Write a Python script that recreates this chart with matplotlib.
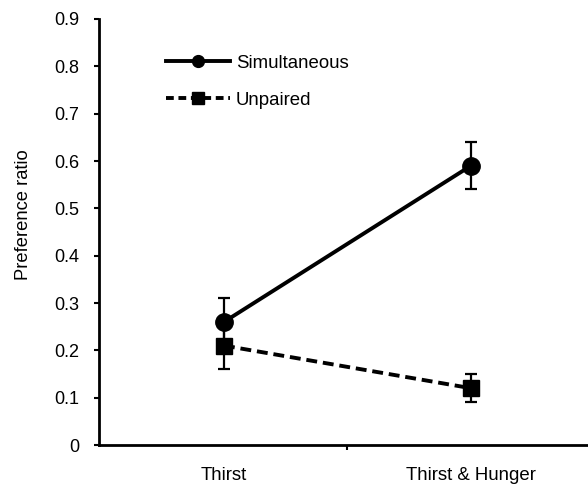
import matplotlib

matplotlib.use("Agg")
import matplotlib.pyplot as plt
from matplotlib.lines import Line2D

plt.rcParams["font.family"] = ["Liberation Sans", "DejaVu Sans"]

conditions = ["Thirst", "Thirst & Hunger"]
simultaneous = [0.26, 0.59]
simultaneous_err = [0.05, 0.05]
unpaired = [0.21, 0.12]
unpaired_err = [0.05, 0.03]

fig = plt.figure(figsize=(5.88, 4.88), dpi=100)
ax = fig.add_axes([99 / 588, 43 / 488, 489 / 588, 426 / 488])

x = list(range(len(conditions)))
ax.errorbar(x, simultaneous, yerr=simultaneous_err, color="black", lw=2.8,
            marker="o", ms=12.5, capsize=4.5, elinewidth=1.6, capthick=1.6)
ax.errorbar(x, unpaired, yerr=unpaired_err, color="black", lw=2.8,
            marker="s", ms=12, capsize=4.5, elinewidth=1.6, capthick=1.6,
            dashes=(2.8, 1.5))

ax.set_xlim(-0.506, 1.474)
ax.set_ylim(0, 0.9)
ax.set_yticks([0, 0.1, 0.2, 0.3, 0.4, 0.5, 0.6, 0.7, 0.8, 0.9])
ax.set_yticklabels(["0", "0.1", "0.2", "0.3", "0.4", "0.5", "0.6", "0.7", "0.8", "0.9"])
ax.set_xticks(x)
ax.set_xticklabels(conditions)
ax.set_xticks([0.5], minor=True)
ax.tick_params(axis="x", which="major", length=0, pad=16, labelsize=13.4)
ax.tick_params(axis="x", which="minor", length=3.5, width=1.5, direction="out")
ax.tick_params(axis="y", length=3.6, width=1.5, direction="out", pad=10.5, labelsize=13)
ax.set_ylabel("Preference ratio", fontsize=13.2, labelpad=16, y=0.54)

for side in ["top", "right"]:
    ax.spines[side].set_visible(False)
for side in ["left", "bottom"]:
    ax.spines[side].set_linewidth(2)

handles = [
    Line2D([], [], color="black", lw=2.8, marker="o", ms=8.5),
    Line2D([], [], color="black", lw=2.8, marker="s", ms=8, dashes=(2.0, 1.2)),
]
ax.legend(handles, ["Simultaneous", "Unpaired"], loc="upper left",
          bbox_to_anchor=(0.103, 0.955), frameon=False,
          handlelength=3.45, handletextpad=0.3, labelspacing=1.05,
          fontsize=13.4)

fig.savefig("out.png", dpi=100)
